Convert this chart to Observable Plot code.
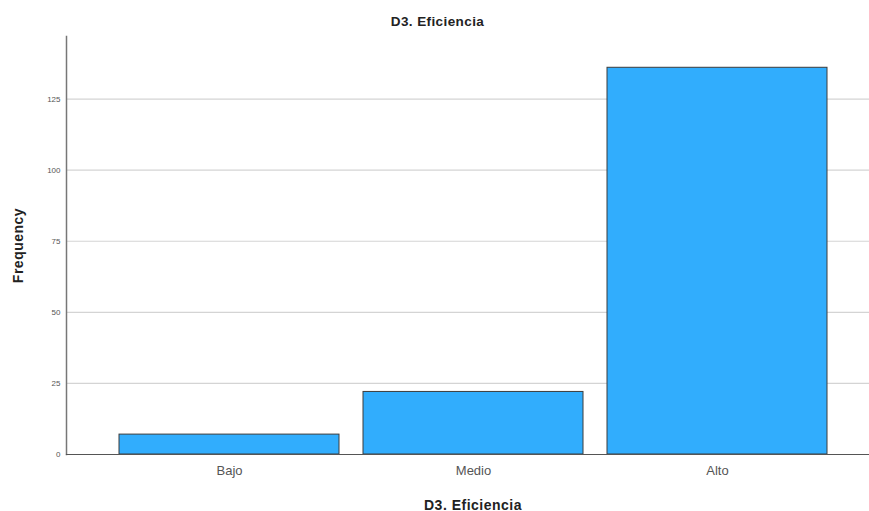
<!DOCTYPE html>
<html>
<head>
<meta charset="utf-8">
<script src="https://cdn.jsdelivr.net/npm/d3@7"></script>
<script src="https://cdn.jsdelivr.net/npm/@observablehq/plot@0.6"></script>
<style>
  body { margin: 0; background: #fff; font-family: Arial, "Liberation Sans", sans-serif; }
  #title { height: 30px; width: 869px; text-align: center; font-weight: bold; font-size: 13.5px; line-height: 14px; padding-top: 15px; padding-left: 6px; letter-spacing: 0.4px; box-sizing: border-box; color: #222; }
  .lbl { letter-spacing: 0.5px; }
</style>
</head>
<body>
<div id="title">D3. Eficiencia</div>
<div id="chart"></div>
<script>
const categories = ["Bajo", "Medio", "Alto"];
const frequencies = [7, 22, 136];
const yTicks = [0, 25, 50, 75, 100, 125];
const titleText = "D3. Eficiencia";
const yLabel = "Frequency";

const data = categories.map((c, i) => ({category: c, value: frequencies[i]}));

const chart = Plot.plot({
  width: 869,
  height: 481,
  marginTop: 6,
  marginLeft: 66,
  marginRight: 0,
  marginBottom: 57,
  style: {fontFamily: "Arial, 'Liberation Sans', sans-serif", background: "#fff"},
  x: {domain: categories, range: [106, 840], padding: 0.1, paddingOuter: 0.05, label: null},
  y: {domain: [0, 147], label: null},
  marks: [
    Plot.gridY(yTicks.filter(d => d > 0), {stroke: "#d4d4d4", strokeOpacity: 1, strokeWidth: 1.2}),
    Plot.barY(data, {x: "category", y: "value", fill: "#31adfd", stroke: "#3c3c3c", strokeWidth: 1}),
    Plot.frame({anchor: "left", stroke: "#777", strokeWidth: 1.5}),
    Plot.frame({anchor: "bottom", stroke: "#555", strokeWidth: 1.2}),
    Plot.axisY({ticks: yTicks, tickSize: 0, tickPadding: 6, fontSize: 8, fill: "#555", label: null}),
    Plot.axisX({tickSize: 0, tickPadding: 11, fontSize: 13, fill: "#555", label: null}),
    Plot.text([titleText], {frameAnchor: "bottom", dy: 55, dx: 5, fontWeight: "bold", fontSize: 14, fill: "#222", className: "lbl"}),
    Plot.text([yLabel], {frameAnchor: "left", textAnchor: "middle", dx: -48, rotate: -90, fontWeight: "bold", fontSize: 14, fill: "#222", className: "lbl"})
  ]
});
document.getElementById("chart").appendChild(chart);
</script>
</body>
</html>
